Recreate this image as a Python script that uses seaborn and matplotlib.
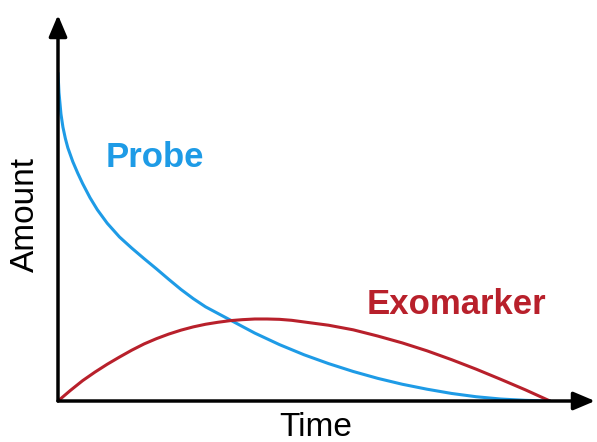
import numpy as np
import pandas as pd
import matplotlib
matplotlib.use("Agg")
import matplotlib.pyplot as plt
import seaborn as sns

# values (time in arbitrary units, amount normalised)
probe_t = [0, 0.02, 0.06, 0.1, 0.15, 0.2, 0.3, 0.4, 0.5, 0.65, 0.8, 1.0,
           1.25, 1.5, 1.75, 2.0, 2.25, 2.5, 2.75, 3.0, 3.5, 4.0, 4.5, 5.0,
           5.5, 6.0, 6.5, 7.0, 7.5, 8.0, 8.5, 9.0, 9.5, 10.0]
probe = [1.0, 0.94, 0.875, 0.835, 0.80, 0.772, 0.73, 0.695, 0.663, 0.62,
         0.583, 0.542, 0.50, 0.466, 0.434, 0.403, 0.371, 0.34, 0.312, 0.287,
         0.247, 0.207, 0.172, 0.141, 0.114, 0.09, 0.069, 0.051, 0.036, 0.023,
         0.013, 0.006, 0.002, 0.0]

exo_t = [0, 0.25, 0.5, 0.75, 1.0, 1.25, 1.5, 1.75, 2.0, 2.25, 2.5, 2.75,
         3.0, 3.25, 3.5, 3.75, 4.0, 4.25, 4.5, 4.75, 5.0, 5.5, 6.0, 6.5,
         7.0, 7.5, 8.0, 8.5, 9.0, 9.5, 10.0]
exomarker = [0.0, 0.032, 0.062, 0.088, 0.112, 0.134, 0.155, 0.174, 0.19,
             0.204, 0.216, 0.226, 0.234, 0.240, 0.245, 0.248, 0.250, 0.250,
             0.249, 0.246, 0.241, 0.231, 0.217, 0.198, 0.177, 0.153, 0.126,
             0.097, 0.066, 0.034, 0.0]

probe_df = pd.DataFrame({"time": probe_t, "amount": probe})
exo_df = pd.DataFrame({"time": exo_t, "amount": exomarker})

sns.set_style("white")
plt.rcParams["font.family"] = ["Liberation Sans", "DejaVu Sans"]

W, H = 597, 442
fig = plt.figure(figsize=(W / 100, H / 100), dpi=100)
ax = fig.add_axes([58 / W, 41 / H, (595 - 58) / W, (401 - 15) / H])

blue = "#1e9be6"
red = "#b8202b"
sns.lineplot(data=probe_df, x="time", y="amount", color=blue, lw=2.2, ax=ax)
sns.lineplot(data=exo_df, x="time", y="amount", color=red, lw=2.2, ax=ax)

ax.set_xlim(0, (595 - 58) / 49.2)
ax.set_ylim(0, (401 - 15) / 328)
for s in ax.spines.values():
    s.set_visible(False)
ax.set_xticks([])
ax.set_yticks([])
ax.set_xlabel("")
ax.set_ylabel("")

# arrow axes
arrow = dict(arrowstyle="-|>,head_length=1.3,head_width=0.55",
             color="black", lw=2.5, shrinkA=0, shrinkB=0)
ax.annotate("", xy=(1.0, 0), xytext=(0, 0), xycoords="axes fraction",
            arrowprops=arrow)
ax.annotate("", xy=(0, 1.0), xytext=(0, 0), xycoords="axes fraction",
            arrowprops=arrow)

fig.text(316 / W, 1 - 427 / H, "Time", fontsize=24, color="black",
         ha="center", va="center")
fig.text(25 / W, 1 - 214 / H, "Amount", fontsize=24, color="black",
         rotation=90, ha="center", va="center")

fig.text(155 / W, 1 - 157 / H, "Probe", color=blue, fontsize=25,
         fontweight="bold", ha="center", va="center")
fig.text(456 / W, 1 - 305 / H, "Exomarker", color=red, fontsize=25,
         fontweight="bold", ha="center", va="center")

fig.savefig("out.png", dpi=100)
